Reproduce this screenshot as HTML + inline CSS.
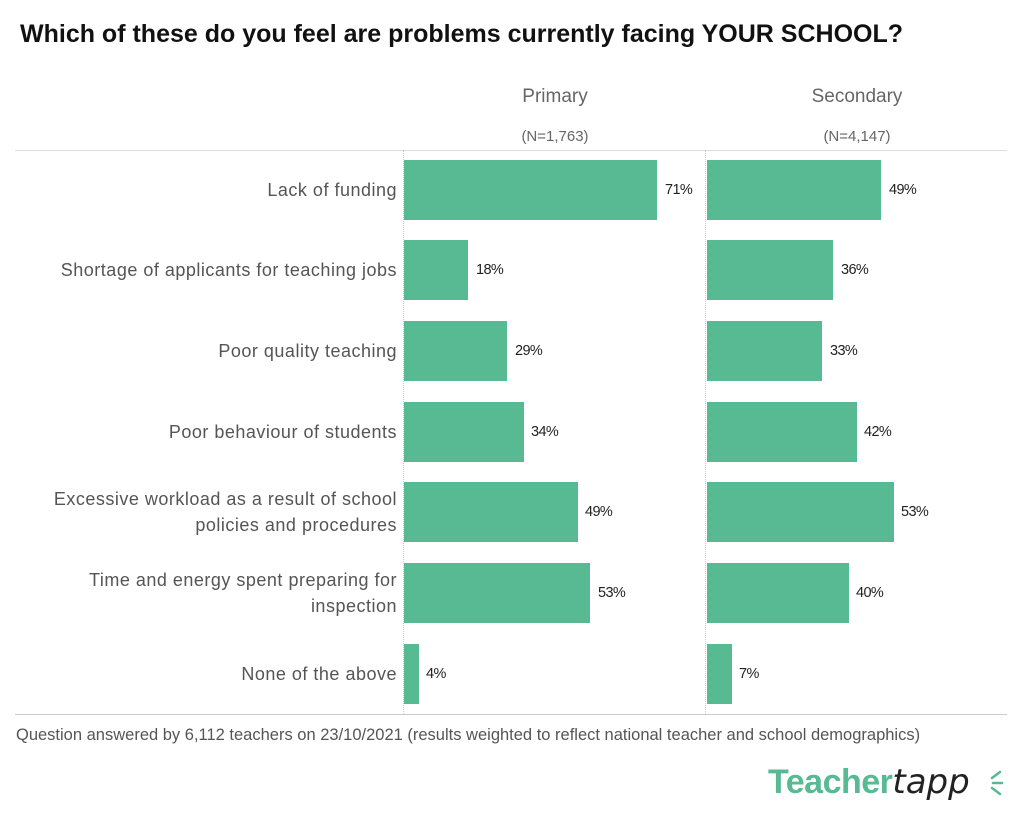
<!DOCTYPE html><html><head><style>
body{margin:0;width:1024px;height:832px;background:#fff;position:relative;font-family:"Liberation Sans",sans-serif;overflow:hidden}
div{position:absolute}
.t{left:20px;top:20px;font-size:25px;font-weight:bold;color:#111;white-space:nowrap}
.h{font-size:19px;color:#666;text-align:center;width:200px}
.n{font-size:15px;color:#666;text-align:center;width:200px}
.b{background:#57ba93;height:60px}
.v{font-size:14.5px;color:#222;line-height:60px;letter-spacing:-0.6px}
.l{right:627px;font-size:18px;letter-spacing:0.5px;color:#555;text-align:right;line-height:26px;display:flex;align-items:center;justify-content:flex-end;height:60px;width:390px}
</style></head><body>
<div class="t">Which of these do you feel are problems currently facing YOUR SCHOOL?</div>
<div class="h" style="left:455px;top:86px">Primary</div>
<div class="h" style="left:757px;top:86px">Secondary</div>
<div class="n" style="left:455px;top:128px">(N=1,763)</div>
<div class="n" style="left:757px;top:128px">(N=4,147)</div>
<div style="left:15px;top:150px;width:992px;height:1px;background:#ddd"></div>
<div style="left:15px;top:714px;width:992px;height:1px;background:#ccc"></div>
<div style="left:403px;top:150px;height:564px;border-left:1px dotted #ccc"></div>
<div style="left:705px;top:150px;height:564px;border-left:1px dotted #ccc"></div>

<div class="l" style="top:160px">Lack of funding</div>
<div class="l" style="top:240px">Shortage of applicants for teaching jobs</div>
<div class="l" style="top:321px">Poor quality teaching</div>
<div class="l" style="top:402px">Poor behaviour of students</div>
<div class="l" style="top:482px">Excessive workload as a result of school<br>policies and procedures</div>
<div class="l" style="top:563px">Time and energy spent preparing for<br>inspection</div>
<div class="l" style="top:644px">None of the above</div>

<div class="b" style="left:404px;top:160px;width:253px"></div><div class="v" style="left:665px;top:160px">71%</div>
<div class="b" style="left:404px;top:240px;width:64px"></div><div class="v" style="left:476px;top:240px">18%</div>
<div class="b" style="left:404px;top:321px;width:103px"></div><div class="v" style="left:515px;top:321px">29%</div>
<div class="b" style="left:404px;top:402px;width:120px"></div><div class="v" style="left:531px;top:402px">34%</div>
<div class="b" style="left:404px;top:482px;width:174px"></div><div class="v" style="left:585px;top:482px">49%</div>
<div class="b" style="left:404px;top:563px;width:186px"></div><div class="v" style="left:598px;top:563px">53%</div>
<div class="b" style="left:404px;top:644px;width:15px"></div><div class="v" style="left:426px;top:644px">4%</div>

<div class="b" style="left:707px;top:160px;width:174px"></div><div class="v" style="left:889px;top:160px">49%</div>
<div class="b" style="left:707px;top:240px;width:126px"></div><div class="v" style="left:841px;top:240px">36%</div>
<div class="b" style="left:707px;top:321px;width:115px"></div><div class="v" style="left:830px;top:321px">33%</div>
<div class="b" style="left:707px;top:402px;width:150px"></div><div class="v" style="left:864px;top:402px">42%</div>
<div class="b" style="left:707px;top:482px;width:187px"></div><div class="v" style="left:901px;top:482px">53%</div>
<div class="b" style="left:707px;top:563px;width:142px"></div><div class="v" style="left:856px;top:563px">40%</div>
<div class="b" style="left:707px;top:644px;width:25px"></div><div class="v" style="left:739px;top:644px">7%</div>

<div style="left:16px;top:726px;font-size:16.5px;color:#555;white-space:nowrap">Question answered by 6,112 teachers on 23/10/2021 (results weighted to reflect national teacher and school demographics)</div>
<div style="left:768px;top:762px;font-size:34px;font-weight:bold;color:#57ba93;letter-spacing:-0.5px;white-space:nowrap">Teacher<span style="color:#222;font-weight:normal;font-family:'DejaVu Sans',sans-serif;font-style:italic;font-size:34px;letter-spacing:0">tapp</span></div>
<svg style="position:absolute;left:988px;top:768px" width="20" height="30"><g stroke="#57ba93" stroke-width="2.5" stroke-linecap="round"><line x1="4" y1="10" x2="12" y2="4"/><line x1="5" y1="15" x2="14" y2="15"/><line x1="4" y1="20" x2="12" y2="26"/></g></svg>
</body></html>
